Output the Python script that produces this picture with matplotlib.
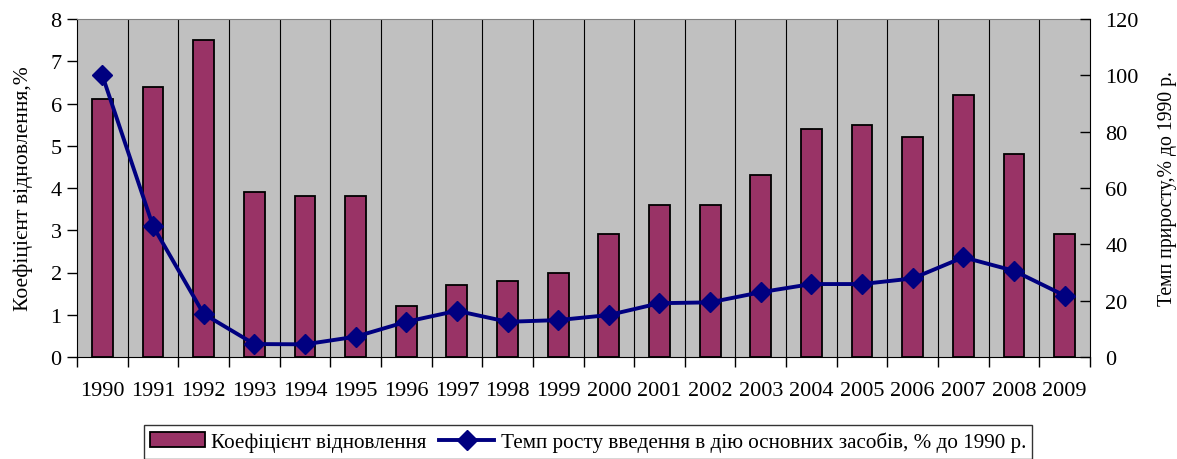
import matplotlib
matplotlib.use("Agg")
import matplotlib.pyplot as plt
import numpy as np

years = [str(y) for y in range(1990, 2010)]
renewal = [6.1, 6.4, 7.5, 3.9, 3.8, 3.8, 1.2, 1.7, 1.8, 2.0, 2.9, 3.6, 3.6, 4.3, 5.4, 5.5, 5.2, 6.2, 4.8, 2.9]
growth = [100, 46.5, 15.3, 4.6, 4.5, 7.2, 12.5, 16.4, 12.5, 13.1, 14.9, 19.1, 19.4, 23.0, 25.9, 25.9, 27.9, 35.4, 30.6, 21.8]

bar_label = "Коефіцієнт відновлення"
line_label = "Темп росту введення в дію основних засобів, % до 1990 р."
left_ylabel = "Коефіцієнт відновлення,%"
right_ylabel = "Темп приросту,% до 1990 р."

plt.rcParams['font.family'] = ['Liberation Serif', 'DejaVu Serif']

fig = plt.figure(figsize=(11.77, 4.6), dpi=100)
ax = fig.add_axes([77/1177, 102/460, (1090-77)/1177, (358-20)/460])
ax.set_facecolor('#C0C0C0')
x = np.arange(len(years))

bars = ax.bar(x, renewal, width=0.41, color='#993366', edgecolor='black', linewidth=1.3, zorder=3, label=bar_label)
ax.set_xlim(-0.5, len(years) - 0.5)
ax.set_ylim(0, 8)
ax.set_yticks(range(0, 9))
ax.tick_params(axis='y', direction='out', length=7, width=1, labelsize=16, pad=4)

ax.set_xticks(x)
ax.set_xticklabels(years)
ax.set_xticks(np.arange(-0.5, len(years)), minor=True)
ax.tick_params(axis='x', which='major', length=0, labelsize=16, pad=17)
ax.tick_params(axis='x', which='minor', direction='out', length=7, width=1)
for b in np.arange(0.5, len(years) - 0.5):
    ax.axvline(b, color='black', linewidth=0.8, zorder=1)

ax.spines['top'].set_color('#808080')
ax.spines['left'].set_color('black')
ax.spines['bottom'].set_color('black')
ax.spines['right'].set_visible(False)
ax.set_ylabel(left_ylabel, fontsize=15.6, labelpad=13)

ax2 = ax.twinx()
line, = ax2.plot(x, growth, color='#000080', linewidth=2.8, marker='D', markersize=10, zorder=5, label=line_label)
ax2.set_ylim(0, 120)
ax2.set_yticks(range(0, 121, 20))
ax2.tick_params(axis='y', direction='in', length=7, width=1, labelsize=16, pad=11)
ax2.spines['right'].set_color('black')
ax2.spines['top'].set_visible(False)
ax2.spines['left'].set_visible(False)
ax2.spines['bottom'].set_visible(False)
ax2.set_ylabel(right_ylabel, fontsize=14.2, labelpad=14)

leg = fig.legend([bars, line], [bar_label, line_label], loc='center', bbox_to_anchor=(588/1177, 1 - 443/460),
                 ncol=2, frameon=True, fancybox=False, edgecolor='black', fontsize=15.2,
                 handlelength=2.6, handletextpad=0.3, columnspacing=0.6, borderpad=0.3, borderaxespad=0)
leg.get_frame().set_linewidth(1.0)

fig.savefig('out.png', dpi=100)
